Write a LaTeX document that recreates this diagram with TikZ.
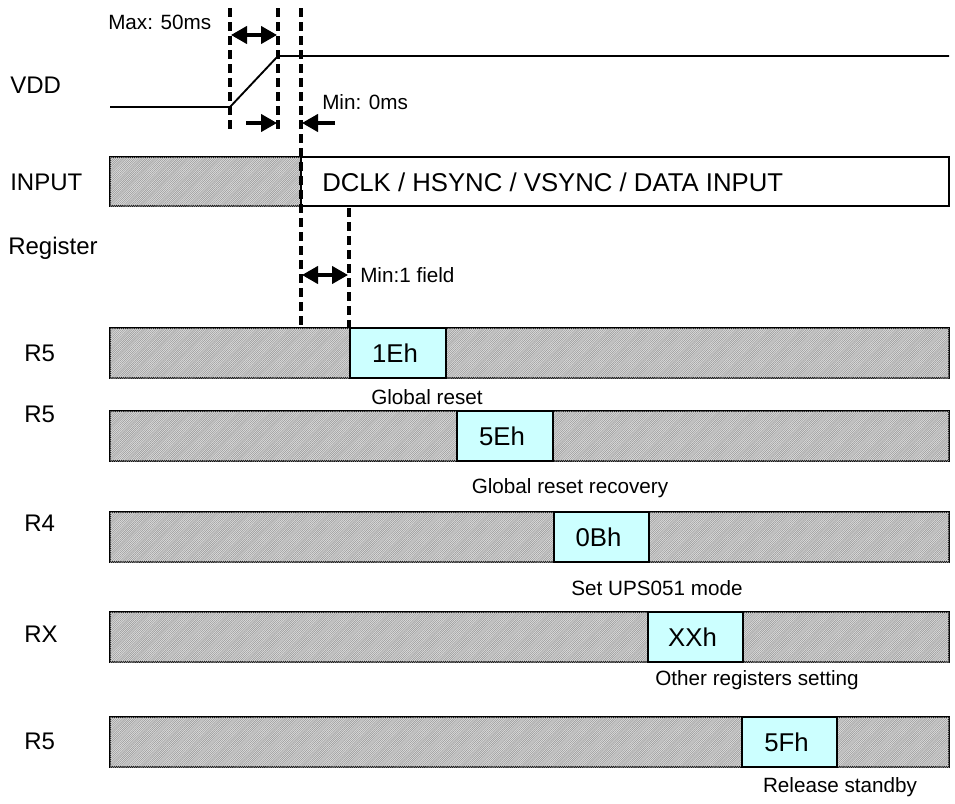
\documentclass[tikz,border=0pt]{standalone}
\usepackage{fontspec}
\setmainfont{Liberation Sans}
\usetikzlibrary{patterns,arrows.meta}
\definecolor{cyanbox}{HTML}{CCFFFF}
\pgfdeclarepatternformonly{finehatch}{\pgfqpoint{-0.5pt}{-0.5pt}}{\pgfqpoint{2pt}{2pt}}{\pgfqpoint{1.6pt}{1.6pt}}{
  \pgfsetlinewidth{0.5pt}
  \pgfpathmoveto{\pgfqpoint{0pt}{0pt}}
  \pgfpathlineto{\pgfqpoint{1.6pt}{1.6pt}}
  \pgfusepath{stroke}
}
\tikzset{
  hatchbar/.style={draw=black, line width=1.5pt, fill=gray!22, postaction={pattern=finehatch, pattern color=gray!75}},
  valbox/.style={draw=black, line width=1.5pt, fill=cyanbox},
  guide/.style={line width=2.3pt, dash pattern=on 7pt off 3.5pt},
  dimarrow/.style={line width=2.4pt, -{Triangle[length=12pt,width=13pt]}},
  dimboth/.style={line width=2.4pt, {Triangle[length=12pt,width=13pt]}-{Triangle[length=12pt,width=13pt]}},
  lbl/.style={font=\fontsize{18}{20}\selectfont, anchor=west, inner sep=0pt},
  smalltxt/.style={font=\fontsize{15.5}{18}\selectfont, inner sep=0pt},
  bigtxt/.style={font=\fontsize{19.3}{22}\selectfont, inner sep=0pt},
}
\begin{document}
\begin{tikzpicture}[x=0.75pt,y=-0.75pt]
\useasboundingbox (0,0) rectangle (955,803);

% signal labels
\node[lbl] (lvdd) at (10,85) {VDD};
\node[lbl] (linput) at (10,182) {INPUT};
\node[lbl] (lreg) at (8,248) {Register};

% VDD waveform
\coordinate (v0) at (110,107);
\coordinate (v1) at (230,107);
\coordinate (v2) at (278,56);
\coordinate (v3) at (949,56);
\draw[line width=1.4pt] (v0) -- (v1) -- (v2) -- (v3);

% INPUT bar
\draw[hatchbar] (110,157) rectangle (301,206);
\draw[line width=1.5pt, fill=white] (301,157) rectangle (949,206);
\node[bigtxt, anchor=west] (intext) at (322,182) {DCLK / HSYNC / VSYNC / DATA INPUT};

% register rows
\foreach \yt/\xa/\xb/\val/\cap/\cx/\cy/\rl/\ry [count=\i] in {
  328/350/446/1Eh/Global reset/427/397/R5/353,
  411/457/553/5Eh/Global reset recovery/570/488/R5/414,
  512/554/649/0Bh/Set UPS051 mode/657/588/R4/523,
  612/648/743/XXh/Other registers setting/757/680/RX/634,
  717/742/837/5Fh/Release standby/840/787/R5/741}{
  \pgfmathsetmacro{\yb}{\yt+50}
  \draw[hatchbar] (110,\yt) rectangle (949,\yb);
  \draw[valbox] (\xa,\yt) rectangle (\xb,\yb);
  \node[bigtxt] (val\i) at ({(\xa+\xb)/2-3},{\yt+25}) {\val};
  \node[smalltxt] (cap\i) at (\cx,\cy) {\cap};
  \node[lbl] (rl\i) at (24,\ry) {\rl};
}

% guide lines
\coordinate (g1t) at (230,8);   \coordinate (g1b) at (230,133);
\coordinate (g2t) at (278,8);   \coordinate (g2b) at (278,133);
\coordinate (g3t) at (301,8);   \coordinate (g3b) at (301,327);
\coordinate (g4t) at (349,208); \coordinate (g4b) at (349,328);
\draw[guide] (g1t) -- (g1b);
\draw[guide] (g2t) -- (g2b);
\draw[guide] (g3t) -- (g3b);
\draw[guide] (g4t) -- (g4b);

% dimension arrows
\coordinate (m1a) at (231,35); \coordinate (m1b) at (277,35);
\draw[dimboth] (m1a) -- (m1b);
\node[smalltxt, anchor=west] (tmax) at (108,22) {Max: 50ms};

\coordinate (m2a) at (246,123); \coordinate (m2b) at (277,123);
\draw[dimarrow] (m2a) -- (m2b);
\coordinate (m3a) at (335,123); \coordinate (m3b) at (302,123);
\draw[dimarrow] (m3a) -- (m3b);
\node[smalltxt, anchor=west] (tmin) at (322,102) {Min: 0ms};

\coordinate (m4a) at (302,275); \coordinate (m4b) at (348,275);
\draw[dimboth] (m4a) -- (m4b);
\node[smalltxt, anchor=west] (tfield) at (360,275) {Min:1 field};
\end{tikzpicture}
\end{document}
